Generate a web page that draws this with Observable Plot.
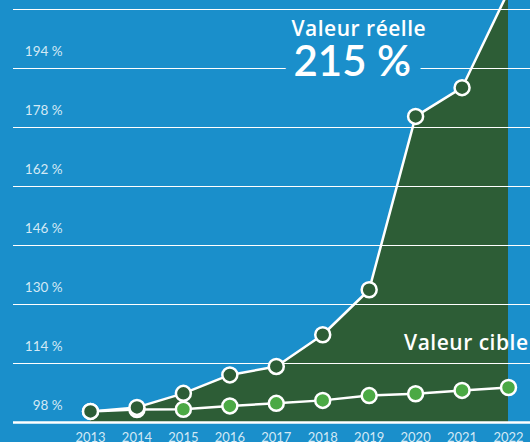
<!DOCTYPE html>
<html>
<head>
<meta charset="utf-8">
<script src="https://cdn.jsdelivr.net/npm/d3@7"></script>
<script src="https://cdn.jsdelivr.net/npm/@observablehq/plot@0.6"></script>
<style>
  html, body { margin: 0; padding: 0; background: #1a8fcb; overflow: hidden; }
  #chart svg { display: block; }
  .annot text { letter-spacing: 0.5px; }
</style>
</head>
<body>
<div id="chart"></div>
<script>
const years = [2013, 2014, 2015, 2016, 2017, 2018, 2019, 2020, 2021, 2022];
const actual = [101.0, 102.1, 105.9, 110.9, 113.2, 121.8, 134.0, 181.0, 188.8, 215];
const target = [101.0, 101.5, 101.6, 102.5, 103.2, 104.0, 105.3, 105.8, 106.7, 107.5];
const yTicks = [98, 114, 130, 146, 162, 178, 194, 210];
const yLabels = [98, 114, 130, 146, 162, 178, 194];
const headline = "Valeur réelle";
const headlineValue = "215\u202f%";
const targetLabel = "Valeur cible";

const BG = "#1a8fcb";
const DARK = "#2d5d36";
const LIGHT = "#4ba944";
const FONT = "Lato, 'Open Sans', sans-serif";
const ANNOT_FONT = "'Open Sans', Lato, sans-serif";

const actualData = years.map((year, i) => ({year, value: actual[i]}));
const targetData = years.map((year, i) => ({year, value: target[i]}));
const baseline = yTicks[0];
const fmt = d => `${d}\u202f%`;

const chart = Plot.plot({
  width: 530,
  height: 442,
  marginLeft: 90,
  marginRight: 22,
  marginTop: 9,
  marginBottom: 20,
  style: {background: BG, fontFamily: FONT, overflow: "hidden"},
  x: {type: "linear", domain: [years[0], years[years.length - 1]], axis: null},
  y: {domain: [yTicks[0], yTicks[yTicks.length - 1]], axis: null},
  marks: [
    Plot.areaY(actualData, {x: "year", y1: baseline, y2: "value", fill: DARK}),
    Plot.ruleY(yTicks.slice(1), {stroke: "white", strokeWidth: 1.2, insetLeft: -77, insetRight: -22}),
    Plot.ruleY([baseline], {stroke: "white", strokeWidth: 2.5, insetLeft: -77, insetRight: -22}),
    Plot.text(yLabels, {
      y: d => d, text: fmt, frameAnchor: "left", dx: -28, dy: -17,
      textAnchor: "end", fill: "#d3e9f5", fontSize: 13.5
    }),
    Plot.axisX({
      ticks: years, tickFormat: d => String(d), tickSize: 0, tickPadding: 10,
      fontSize: 13, color: "#d3e9f5", label: null
    }),
    Plot.line(targetData, {x: "year", y: "value", stroke: "white", strokeWidth: 2.5}),
    Plot.dot(targetData, {x: "year", y: "value", r: 7.5, fill: LIGHT, stroke: "white", strokeWidth: 2.5}),
    Plot.line(actualData, {x: "year", y: "value", stroke: "white", strokeWidth: 2.5}),
    Plot.dot(actualData, {x: "year", y: "value", r: 7.5, fill: DARK, stroke: "white", strokeWidth: 2.5}),
    Plot.text([headlineValue], {
      frameAnchor: "top-left", dx: 203, dy: 66, text: d => d, textAnchor: "start",
      lineAnchor: "bottom", fontSize: 42, fontWeight: 600, fill: "white",
      stroke: BG, strokeWidth: 22
    }),
    Plot.text([headline], {
      frameAnchor: "top-left", dx: 201, dy: 26, text: d => d, textAnchor: "start",
      lineAnchor: "bottom", fontSize: 21, fontWeight: 600, fill: "white",
      fontFamily: ANNOT_FONT, className: "annot"
    }),
    Plot.text([targetLabel], {
      x: [years[years.length - 1]], y: [target[target.length - 1]], text: d => d,
      textAnchor: "end", dx: 20, dy: -37, lineAnchor: "bottom",
      fontSize: 21, fontWeight: 600, fill: "white",
      fontFamily: ANNOT_FONT, className: "annot"
    })
  ]
});
document.getElementById("chart").appendChild(chart);
</script>
</body>
</html>
